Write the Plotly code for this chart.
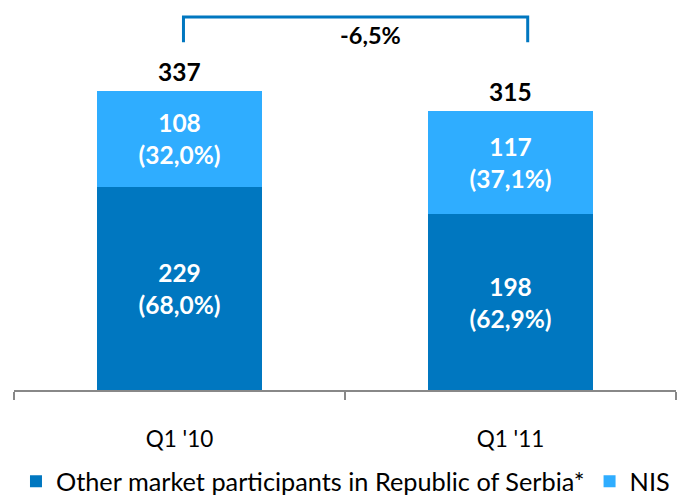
import plotly.graph_objects as go

categories = ["Q1 '10", "Q1 '11"]
other_values = [229, 198]
nis_values = [108, 117]
series_names = ["Other market participants in Republic of Serbia*", "NIS"]

DARK = "#0077C0"
LIGHT = "#2FADFF"
FONT = "Lato"

totals = [o + n for o, n in zip(other_values, nis_values)]


def pct(v, t):
    return f"{v / t * 100:.1f}".replace(".", ",")


other_text = [f"<b>{v}<br>({pct(v, t)}%)</b>" for v, t in zip(other_values, totals)]
nis_text = [f"<b>{v}<br>({pct(v, t)}%)</b>" for v, t in zip(nis_values, totals)]
change = (totals[1] - totals[0]) / totals[0] * 100
change_text = f"{change:.1f}%".replace(".", ",")

fig = go.Figure()
fig.add_trace(go.Bar(
    x=categories, y=other_values, name=series_names[0],
    marker=dict(color=DARK, line=dict(width=0)),
    text=other_text, textposition="inside", insidetextanchor="middle",
    textfont=dict(color="white", size=24.5, family=FONT),
))
fig.add_trace(go.Bar(
    x=categories, y=nis_values, name=series_names[1],
    marker=dict(color=LIGHT, line=dict(width=0)),
    text=nis_text, textposition="inside", insidetextanchor="middle",
    textfont=dict(color="white", size=24.5, family=FONT),
))

for c, t in zip(categories, totals):
    fig.add_annotation(x=c, y=t, text=f"<b>{t}</b>", showarrow=False,
                       yanchor="bottom", yshift=3,
                       font=dict(size=24.5, color="black", family=FONT))

# bracket showing change
bx0, bx1 = 0.012, 1.052
by_top, by_bot = 420.5, 392
fig.add_shape(type="path", xref="x", yref="y",
              path=f"M {bx0},{by_bot} L {bx0},{by_top} L {bx1},{by_top} L {bx1},{by_bot}",
              line=dict(color=DARK, width=3))
fig.add_annotation(x=0.576, y=400, text=f"<b>{change_text}</b>", showarrow=False,
                   font=dict(size=23.5, color="black", family=FONT))

fig.update_layout(
    barmode="stack",
    bargap=0.5,
    width=680, height=498,
    margin=dict(l=14, r=4, t=0, b=108, autoexpand=False),
    plot_bgcolor="white", paper_bgcolor="white",
    font=dict(family=FONT, size=22.5, color="black"),
    showlegend=True,
    legend=dict(orientation="h", x=0.003, xanchor="left", y=-0.293, yanchor="bottom",
                traceorder="normal", font=dict(size=25.3, family=FONT),
                itemwidth=30),
    uniformtext=dict(mode=False),
)
fig.update_xaxes(
    type="category", range=[-0.5, 1.5], automargin=False,
    showline=True, linecolor="#888888", linewidth=2,
    ticks="outside", tickson="boundaries", ticklen=8, tickwidth=2, tickcolor="#888888",
    ticklabelstandoff=28,
    tickfont=dict(size=22.5, family=FONT, color="black"),
    showgrid=False, zeroline=False,
)
fig.update_yaxes(range=[0, 390 / (299 / 337)], visible=False, showgrid=False,
                 zeroline=False, automargin=False)

fig.write_html(
    "out.html",
    config={"displayModeBar": False},
    post_script="document.body.style.margin='0';document.body.style.overflow='hidden';",
)
